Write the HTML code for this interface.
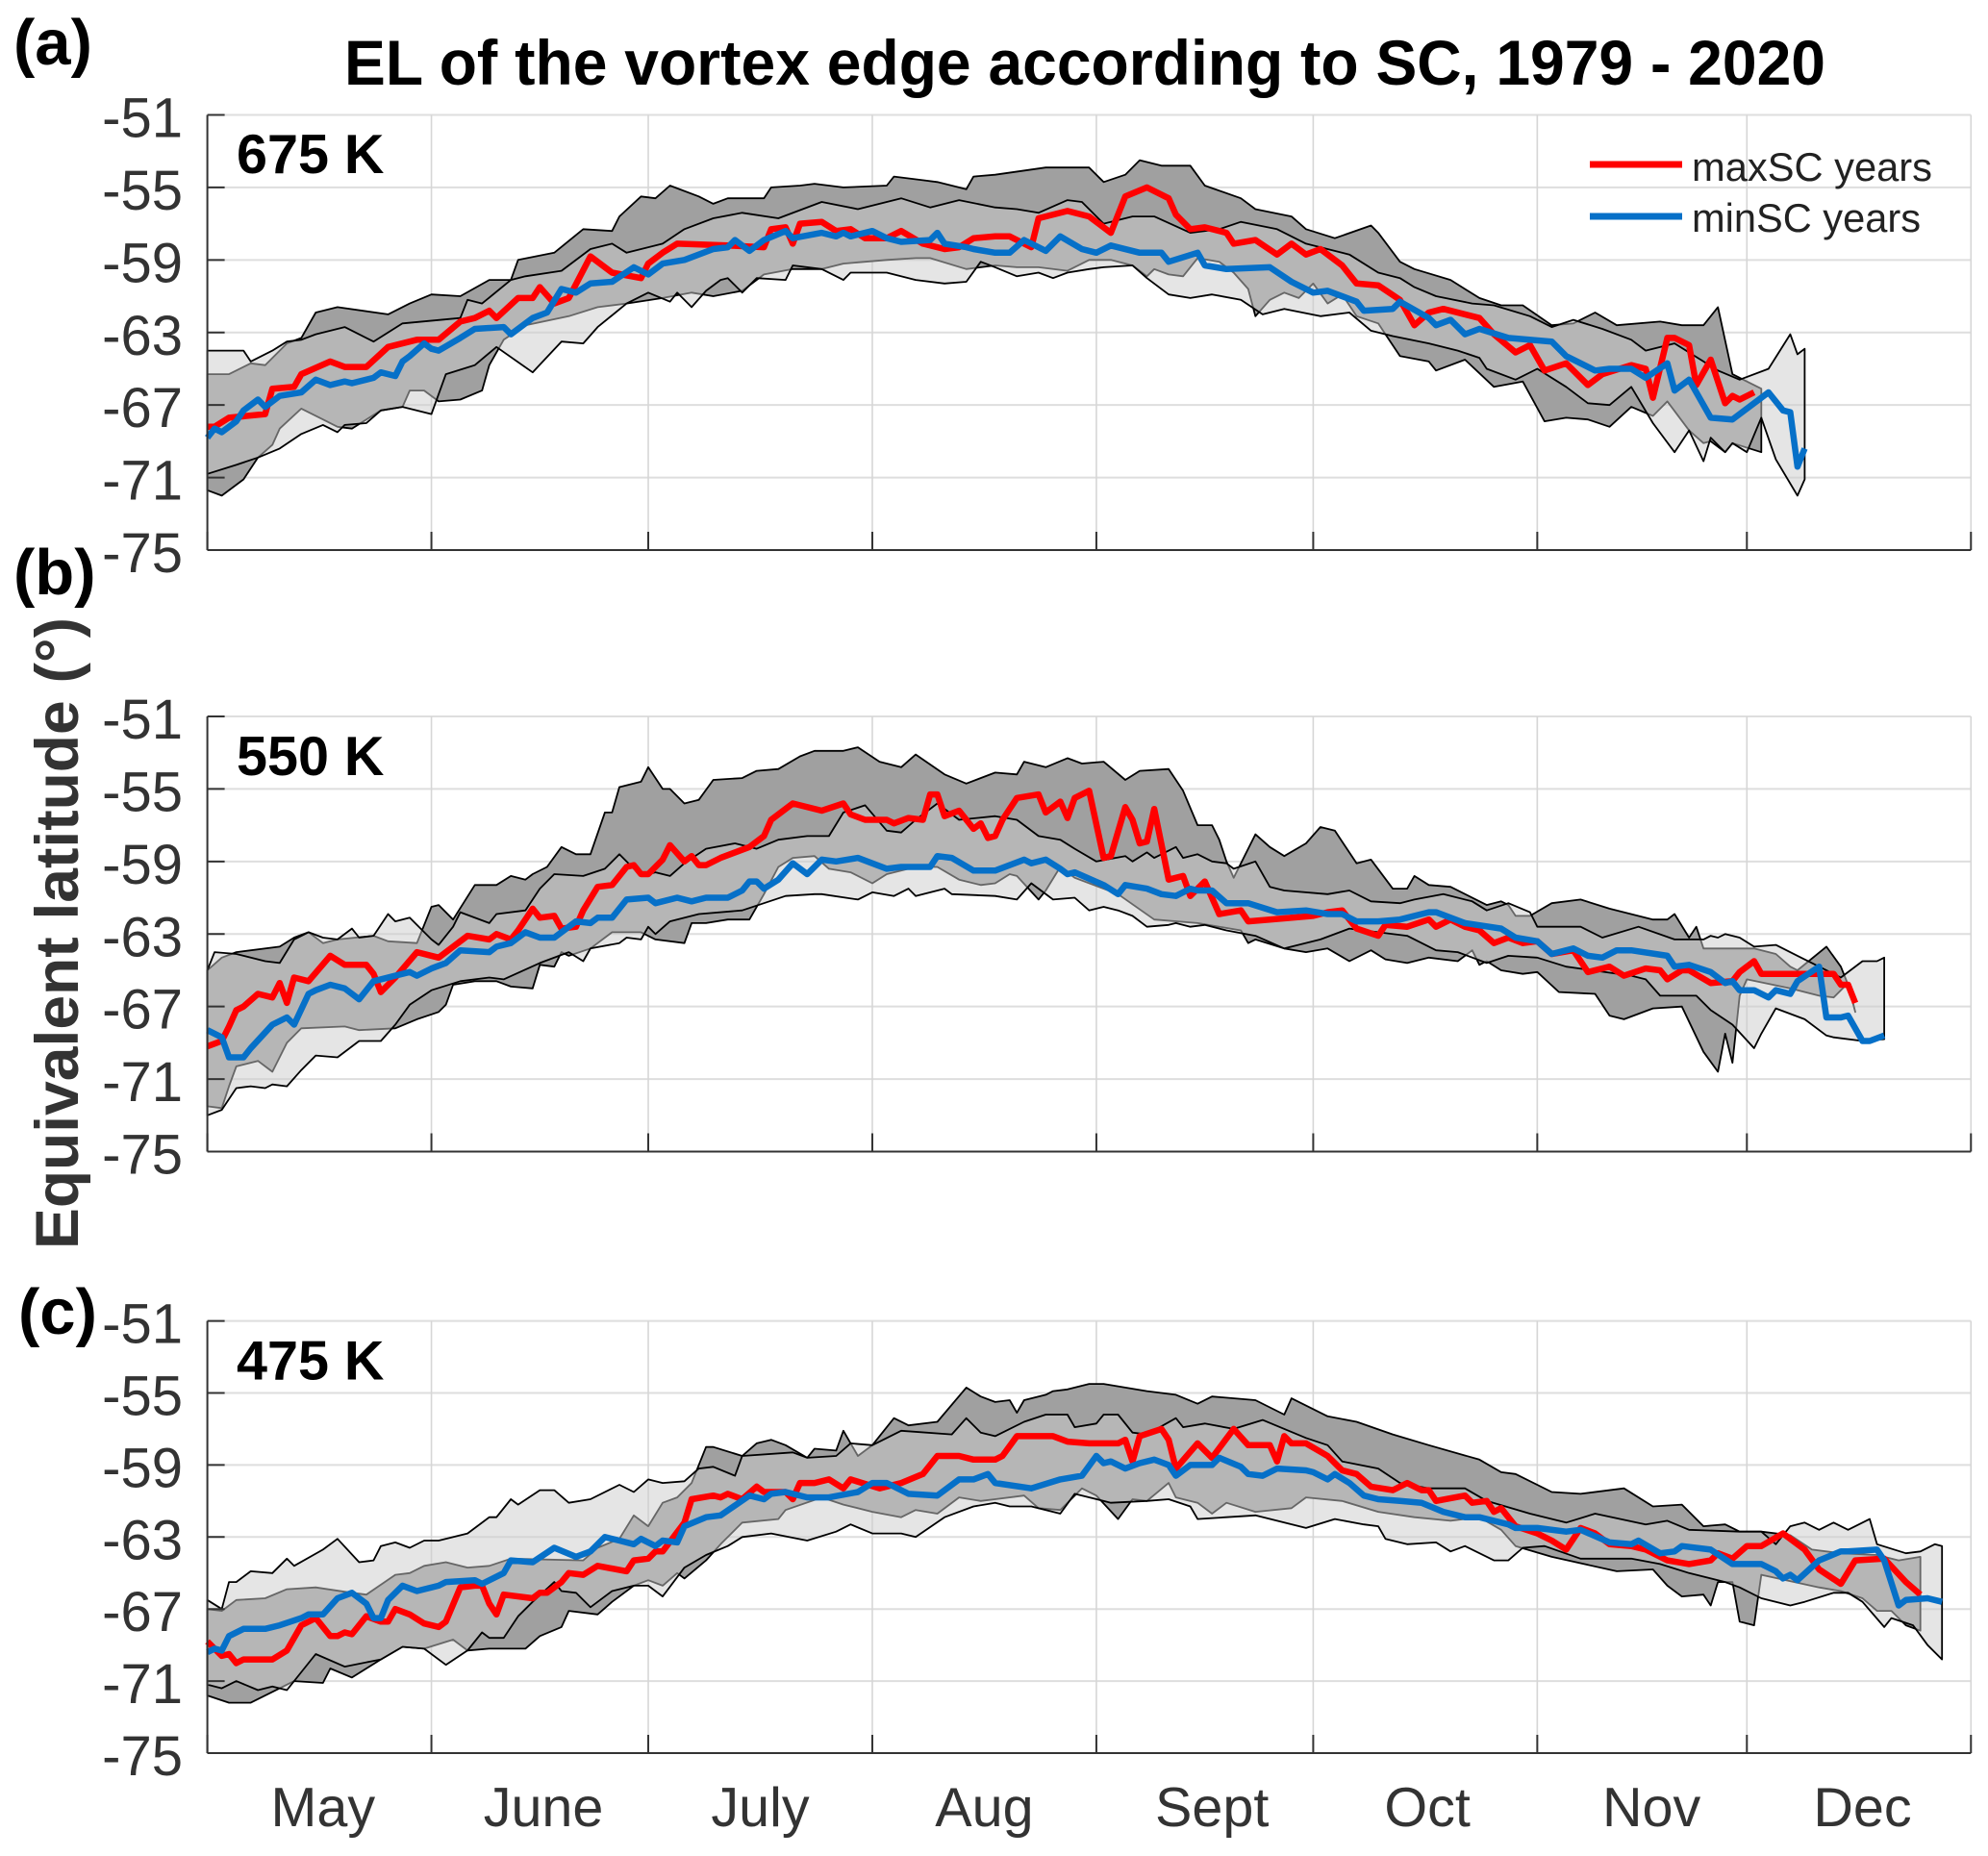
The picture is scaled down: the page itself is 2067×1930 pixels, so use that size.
<!DOCTYPE html>
<html lang="en">
<head>
<meta charset="utf-8">
<title>EL of the vortex edge according to SC, 1979 - 2020</title>
<style>
html,body{margin:0;padding:0;background:#fff}
svg{display:block}
text{font-family:"Liberation Sans",sans-serif}
</style>
</head>
<body>
<svg id="chart" xmlns="http://www.w3.org/2000/svg" width="2067" height="1930" viewBox="0 0 2067 1930">
<rect x="0" y="0" width="2067" height="1930" fill="#fff"/>
<g id="panels"></g>
<text x="358" y="88" font-size="66" font-weight="bold" fill="#000" textLength="1540" lengthAdjust="spacingAndGlyphs">EL of the vortex edge according to SC, 1979 - 2020</text>
<text x="14" y="67" font-size="67" font-weight="bold" fill="#000">(a)</text>
<text x="14" y="618" font-size="67" font-weight="bold" fill="#000">(b)</text>
<text x="19" y="1387" font-size="67" font-weight="bold" fill="#000">(c)</text>
<text transform="translate(81,1299) rotate(-90)" x="0" y="0" font-size="63" font-weight="bold" fill="#333" textLength="657" lengthAdjust="spacingAndGlyphs">Equivalent latitude (°)</text>
<g>
<line x1="1653" y1="171" x2="1749" y2="171" stroke="#ff0000" stroke-width="7"/>
<text x="1759" y="188" font-size="42" fill="#222" textLength="250" lengthAdjust="spacingAndGlyphs">maxSC years</text>
<line x1="1653" y1="225" x2="1749" y2="225" stroke="#0670c8" stroke-width="7"/>
<text x="1759" y="241" font-size="42" fill="#222" textLength="238" lengthAdjust="spacingAndGlyphs">minSC years</text>
</g>
</svg>
<script>
// ---- shared axis data ----
const yTicks = [-51,-55,-59,-63,-67,-71,-75];
const monthStartDays = [0,31,61,92,123,153,184,213,244];
const monthNames = ['May','June','July','Aug','Sept','Oct','Nov','Dec'];
const monthLabelDays = [16,46.5,76.5,107.5,139,168.8,199.8,229];

// ---- panel (a) 675 K ----
const aRedDays = [0,1,3,8,9,12,13,17,19,22,25,29,32,35,37,39,40,43,45,46,48,50,53,56,60,61,63,65,72,77,78,80,81,82,85,87,89,91,94,96,99,102,104,106,109,111,114,115,119,122,125,127,130,133,134,136,138,141,142,145,148,150,152,154,157,159,162,165,167,169,171,176,178,181,183,185,188,191,193,197,199,200,202,203,205,206,208,210,211,212,214];
const aRedVals = [-68.2,-68.2,-67.7,-67.5,-66.1,-66,-65.3,-64.6,-64.9,-64.9,-63.8,-63.4,-63.4,-62.4,-62.2,-61.8,-62.2,-61.1,-61.1,-60.5,-61.4,-61.1,-58.8,-59.7,-60,-59.2,-58.6,-58.1,-58.2,-58.3,-57.3,-57.2,-58.1,-57,-56.9,-57.4,-57.3,-57.8,-57.8,-57.4,-58.1,-58.4,-58.3,-57.8,-57.7,-57.7,-58.3,-56.7,-56.3,-56.6,-57.5,-55.5,-55,-55.6,-56.5,-57.3,-57.2,-57.5,-58.1,-57.9,-58.7,-58.1,-58.7,-58.4,-59.3,-60.3,-60.4,-61.2,-62.6,-61.9,-61.7,-62.2,-63.1,-64.1,-63.7,-65.1,-64.7,-65.9,-65.3,-64.8,-65,-66.6,-63.3,-63.3,-63.7,-65.9,-64.5,-66.9,-66.5,-66.7,-66.3];
const aBlueDays = [0,1,2,4,5,7,8,10,13,15,17,19,20,23,24,26,27,28,30,31,32,35,37,41,42,45,47,49,51,53,56,59,61,63,66,70,72,73,75,77,80,81,85,87,88,89,92,94,96,100,101,102,105,106,109,111,113,116,118,121,123,125,129,132,133,137,138,141,147,150,153,155,159,160,164,165,169,170,172,174,176,180,186,188,192,194,197,199,202,203,205,206,208,211,216,218,219,220,221];
const aBlueVals = [-68.8,-68.3,-68.5,-67.9,-67.3,-66.7,-67.1,-66.5,-66.3,-65.6,-65.9,-65.7,-65.8,-65.5,-65.2,-65.4,-64.6,-64.3,-63.6,-63.9,-64,-63.3,-62.8,-62.7,-63.1,-62.2,-61.9,-60.6,-60.8,-60.3,-60.2,-59.4,-59.8,-59.2,-59,-58.4,-58.3,-57.9,-58.5,-57.9,-57.4,-57.8,-57.5,-57.7,-57.5,-57.7,-57.4,-57.8,-58,-57.9,-57.5,-58.1,-58.3,-58.4,-58.6,-58.6,-57.9,-58.5,-57.7,-58.4,-58.6,-58.2,-58.6,-58.6,-59.1,-58.6,-59.3,-59.5,-59.4,-60.2,-60.8,-60.7,-61.3,-61.8,-61.7,-61.3,-62.2,-62.6,-62.3,-63.1,-62.8,-63.3,-63.5,-64.3,-65.1,-65,-65,-65.5,-64.7,-66.2,-65.6,-66.3,-67.7,-67.8,-66.3,-67.3,-67.4,-70.4,-69.4];
const aDarkTopDays = [0,3,6,8,11,13,15,18,25,28,31,35,39,42,43,48,52,56,57,60,62,64,68,70,72,77,78,82,84,88,94,95,99,101,105,106,109,116,122,124,127,129,132,136,138,143,145,150,152,156,161,162,165,167,172,176,179,182,186,189,192,195,201,204,207,209,211,213,215];
const aDarkTopVals = [-65.3,-65.3,-64.7,-64.8,-63.6,-63.3,-61.9,-61.6,-62,-61.4,-60.9,-61,-60.1,-60.1,-59,-58.6,-57.3,-57.4,-56.6,-55.5,-55.6,-54.9,-55.5,-55.9,-55.6,-55.6,-55,-54.9,-54.8,-55,-54.9,-54.4,-54.6,-54.7,-55.1,-54.4,-54.3,-53.9,-53.9,-54.7,-54.3,-53.5,-53.8,-53.8,-54.9,-55.6,-56.2,-56.6,-57.3,-57.8,-57.1,-57.5,-59.1,-59.5,-60.1,-61.1,-61.5,-61.5,-62.6,-62.5,-61.9,-62.6,-62.4,-62.6,-62.6,-61.6,-65.3,-65.7,-66.1];
const aDarkBotDays = [0,2,5,7,9,10,13,16,18,20,24,27,28,30,32,35,38,39,41,44,50,54,58,63,67,70,74,77,81,85,88,91,94,98,100,105,109,112,115,119,122,125,128,130,131,133,135,137,140,142,144,145,147,149,151,153,155,157,159,162,163,165,169,170,174,178,182,185,188,191,194,197,200,202,205,207,208,210,211,215];
const aDarkBotVals = [-71.7,-72,-71.1,-69.9,-69.2,-68.3,-67.2,-67.8,-68.2,-68.3,-67.3,-67.1,-66.2,-66.2,-66.8,-66.7,-66.2,-64.8,-63.4,-62.6,-62.1,-61.6,-61.4,-61.1,-60.8,-61,-60.7,-59.8,-59.5,-59.5,-59.2,-59.1,-59,-58.9,-58.9,-59.5,-59.3,-59.4,-59.4,-59.6,-59,-59,-59.3,-59.9,-59.5,-59.8,-59.9,-58.9,-59.1,-59.7,-60.6,-62.1,-61.2,-60.8,-61.1,-60.3,-61.4,-60.9,-62.1,-62.5,-63.1,-64.3,-64.6,-65.1,-64.5,-66,-65.7,-67.9,-67.7,-67.8,-68.2,-67.1,-67.6,-66.8,-68.4,-69.1,-69,-69.6,-69.1,-69.6];
const aLightTopDays = [0,5,6,9,11,13,15,19,23,27,35,36,38,42,44,49,53,56,58,63,66,70,74,79,85,90,96,100,104,109,112,115,119,121,124,128,131,136,140,143,148,152,158,162,165,167,170,175,178,183,186,189,193,197,199,203,207,209,212,216,219,220,221];
const aLightTopVals = [-64,-64,-64.6,-64,-63.5,-63.4,-63.1,-62.7,-63.5,-62.5,-62.2,-61.2,-61.4,-60.1,-59.9,-59.6,-58.4,-58.1,-58.6,-58.1,-57.3,-56.7,-56.4,-56.7,-55.8,-56.2,-55.6,-56.1,-55.7,-56.1,-56.2,-56.4,-55.7,-55.8,-57,-56.6,-56.6,-57.5,-57.3,-56.9,-57.3,-58.1,-58.7,-59.7,-60,-60.5,-61,-61.4,-61.5,-62.1,-62.7,-62.3,-62.8,-63.4,-64,-63.6,-64.6,-65.1,-65.6,-65,-63.1,-64.2,-63.9];
const aLightBotDays = [0,4,7,10,13,16,18,19,22,24,27,31,33,37,40,45,49,52,54,58,61,64,65,67,69,71,72,74,76,80,81,85,88,89,94,98,102,105,107,109,112,115,117,119,122,124,128,130,133,136,139,143,146,149,154,158,161,164,169,173,176,177,181,184,188,191,194,197,200,203,205,207,208,210,211,213,215,217,220,221];
const aLightBotVals = [-70.8,-70.3,-69.9,-69.4,-68.6,-68.1,-68.5,-68.1,-68,-67.3,-67.1,-67.5,-65.3,-64.8,-63.8,-65.2,-63.5,-63.6,-62.7,-61.4,-60.8,-61.3,-60.8,-61.6,-60.7,-60.1,-60,-60.8,-60,-60.1,-59.3,-59.5,-60.1,-59.7,-59.7,-60.1,-60.3,-60.2,-59.1,-59.4,-59.9,-59.7,-60,-59.7,-59.5,-59.4,-59.3,-60,-60.9,-61.1,-60.9,-61.2,-62,-61.7,-62.1,-61.9,-62.9,-63.2,-63.6,-64,-64.4,-65,-65.6,-65,-66,-66.9,-67,-66,-68,-69.6,-68.4,-70.1,-68.8,-69.6,-69.1,-69.6,-67.7,-70,-72,-71.1];

// ---- panel (b) 550 K ----
const bRedDays = [0,2,3,4,5,7,9,10,11,12,14,17,19,22,23,24,26,29,32,36,39,40,42,43,45,46,48,49,51,52,54,56,58,59,60,61,63,64,66,67,68,69,71,73,75,77,78,81,85,88,89,91,94,95,97,99,100,101,102,104,106,107,108,109,110,112,115,116,118,119,120,122,124,125,127,128,129,130,131,133,135,136,138,140,143,144,147,153,155,157,159,162,163,166,169,170,172,174,176,178,180,182,184,186,189,191,194,196,199,201,202,204,205,208,211,212,214,215,218,225,226,227,228];
const bRedVals = [-69.2,-68.9,-68.1,-67.2,-67,-66.3,-66.5,-65.7,-66.8,-65.4,-65.6,-64.2,-64.7,-64.7,-65.2,-66.2,-65.4,-64,-64.3,-63.1,-63.3,-63,-63.3,-62.8,-61.6,-62.1,-62,-62.7,-62.6,-61.7,-60.4,-60.3,-59.3,-59.2,-59.7,-59.7,-58.9,-58.1,-59,-58.7,-59.2,-59.2,-58.8,-58.5,-58.2,-57.6,-56.7,-55.8,-56.2,-55.8,-56.4,-56.7,-56.7,-56.9,-56.6,-56.7,-55.3,-55.3,-56.5,-56.2,-57.2,-56.9,-57.7,-57.6,-56.7,-55.5,-55.3,-56.3,-55.7,-56.6,-55.5,-55.1,-58.8,-58.7,-56,-56.7,-58,-57.9,-56.1,-60,-59.8,-60.9,-60.1,-61.9,-61.7,-62.3,-62.2,-62,-61.8,-61.7,-62.7,-63.1,-62.5,-62.6,-62.2,-62.6,-62.2,-62.6,-62.8,-63.5,-63.2,-63.5,-63.4,-64.1,-63.9,-65.1,-64.8,-65.3,-64.9,-65,-65.5,-65,-65,-65.7,-65.6,-65.1,-64.5,-65.2,-65.2,-65.2,-65.8,-65.8,-66.8];
const bBlueDays = [0,2,3,5,6,9,11,12,14,15,17,19,21,23,28,29,31,33,35,39,40,42,44,46,48,51,53,54,56,58,61,62,65,67,69,72,74,75,76,77,79,81,83,85,87,90,94,96,100,101,103,106,109,113,114,116,118,119,120,124,126,127,130,132,134,136,137,139,141,144,148,152,155,157,159,162,165,169,170,174,179,181,184,186,189,191,193,195,197,202,203,205,208,210,211,212,214,216,217,219,220,223,224,226,227,229,230,232];
const bBlueVals = [-68.3,-68.7,-69.8,-69.8,-69.3,-68,-67.6,-68,-66.3,-66.1,-65.8,-66,-66.6,-65.6,-65.1,-65.3,-64.9,-64.6,-63.9,-64,-63.7,-63.5,-62.9,-63.2,-63.2,-62.3,-62.4,-62.1,-62.1,-61.1,-61,-61.3,-61,-61.2,-61,-61,-60.6,-60.1,-60.1,-60.5,-60,-59.1,-59.7,-58.9,-59,-58.8,-59.4,-59.3,-59.3,-58.7,-58.8,-59.5,-59.5,-58.9,-59.1,-58.9,-59.4,-59.7,-59.6,-60.3,-60.8,-60.3,-60.5,-60.8,-60.9,-60.5,-60.6,-60.6,-61.3,-61.3,-61.8,-61.7,-61.9,-61.9,-62.3,-62.3,-62.2,-61.8,-61.8,-62.4,-62.7,-63.2,-63.4,-64.1,-63.8,-64.2,-64.3,-63.9,-63.9,-64.2,-64.8,-64.7,-65.1,-65.7,-65.6,-66.1,-66.1,-66.5,-66.1,-66.3,-65.6,-64.8,-67.6,-67.6,-67.5,-68.9,-68.9,-68.6];
const bDarkTopDays = [0,2,4,10,12,14,16,18,23,25,29,31,32,34,37,40,42,44,45,47,49,51,53,55,56,57,60,61,63,64,66,68,70,74,76,79,82,84,88,90,93,96,98,102,105,109,112,113,116,119,121,124,127,129,133,135,137,139,140,141,142,145,147,149,152,154,156,159,161,164,166,167,169,172,177,179,180,181,183,186,190,194,200,202,203,205,206,207,214,217,219,220,224,226,227,228];
const bDarkTopVals = [-65,-64.3,-64,-63.7,-63.2,-62.9,-63.5,-63.3,-63.1,-63.4,-63.5,-61.5,-61.4,-62.2,-60.3,-60.3,-59.8,-60,-59.7,-59.3,-58.2,-58.6,-58.6,-56.3,-56.3,-54.9,-54.6,-53.8,-55,-55,-55.8,-55.6,-54.5,-54.4,-54,-53.9,-53.2,-52.9,-52.9,-52.7,-53.5,-53.8,-53.1,-54.2,-54.7,-54.1,-54.2,-53.5,-53.8,-53.3,-53.6,-53.5,-54.5,-54,-53.9,-55.1,-57,-57,-57.8,-59,-59.9,-57.5,-58.2,-58.7,-58,-57.1,-57.3,-59.1,-58.9,-60.5,-60.5,-59.8,-60.3,-60.4,-61.4,-61.2,-61.4,-62,-62,-61.3,-61.1,-61.6,-62.2,-62.2,-61.9,-63.2,-62.6,-63.8,-63.8,-64.1,-64.8,-65,-63.7,-64.8,-65.8,-67.3];
const bDarkBotDays = [0,2,3,4,5,7,9,11,13,19,21,26,29,32,33,34,37,40,42,45,46,48,49,50,53,56,60,62,66,67,69,72,75,77,79,81,84,86,89,92,94,98,101,104,107,109,111,112,115,116,118,120,126,131,137,143,144,145,149,152,155,158,161,163,166,169,173,175,176,177,179,182,184,187,192,194,196,200,204,207,209,210,211,212,213,219,223,225,227,228];
const bDarkBotVals = [-72.5,-72.6,-71.4,-70.3,-70.2,-70,-70.6,-69,-68.2,-68.1,-68.3,-68.2,-67.7,-67.3,-66.9,-65.8,-65.6,-65.6,-65.9,-66,-64.7,-64.8,-64,-64.2,-63.8,-62.9,-62.9,-63.3,-63.5,-62.4,-62.4,-62.2,-62.2,-60.8,-59.3,-58.8,-58.7,-59.4,-59.6,-60.2,-59.7,-59.3,-59.3,-60,-60.3,-60.2,-59.7,-59.8,-61.1,-60.6,-59.3,-59.9,-60.8,-62.2,-62.4,-62.8,-63.5,-63.3,-63.8,-64,-63.8,-64.5,-63.9,-64.4,-64.6,-64.3,-64.5,-63.9,-64.7,-64.5,-65,-65.2,-65.1,-66.2,-66.3,-67.5,-67.7,-67.1,-67,-69.5,-70.6,-68.5,-70.1,-66.4,-65.5,-66,-66.4,-66.5,-65.7,-67.3];
const bLightTopDays = [0,1,4,8,10,12,14,16,18,20,21,23,25,26,28,31,32,34,35,39,40,44,46,48,52,55,57,60,62,64,66,69,73,76,79,83,86,88,91,94,96,98,101,104,109,112,115,118,120,123,127,128,130,131,134,135,137,139,141,142,145,147,149,155,158,161,165,167,171,175,177,180,183,184,187,190,193,198,203,207,208,209,210,212,214,217,220,223,226,229,231,232];
const bLightTopVals = [-65,-64,-64.1,-64.5,-64.6,-63.3,-62.9,-63.2,-63.3,-62.7,-63.2,-63.1,-61.9,-62.3,-62.1,-63.3,-63.6,-62.6,-61.8,-62.4,-61.9,-61.7,-60.5,-59.7,-59.8,-59.4,-58.6,-59.8,-59.6,-59.8,-59.1,-58.3,-58,-58.3,-57.8,-57.6,-57.6,-56.3,-55.9,-57.3,-57.4,-56.7,-55.8,-56.7,-56.5,-56.7,-57.6,-57.8,-58.3,-59,-58.7,-59,-58.5,-58.8,-58.2,-58.8,-58.6,-59,-59.1,-59.4,-59,-60.4,-60.6,-60.8,-60.6,-61.2,-61.3,-61.1,-60.8,-61.2,-61.7,-61.3,-61.8,-62.6,-62.6,-62.6,-63.2,-62.6,-63.3,-63.3,-63.1,-63.2,-63,-63.2,-63.7,-63.6,-64.2,-64.8,-65.4,-64.5,-64.5,-64.3];
const bLightBotDays = [0,2,4,6,8,9,11,13,15,18,21,24,26,28,31,35,39,41,46,50,52,53,57,58,60,61,62,64,68,74,77,80,84,85,90,92,95,97,98,102,103,109,112,114,117,120,122,124,126,128,130,133,134,136,138,141,145,149,154,158,162,166,170,173,177,180,184,188,197,199,201,203,206,208,211,214,215,217,221,224,225,229,232];
const bLightBotVals = [-73,-72.7,-71.5,-71.4,-71.5,-71.3,-71.4,-70.5,-69.7,-69.8,-68.9,-68.9,-68,-66.9,-66.1,-65.6,-65.4,-65.5,-64.6,-64,-64.5,-63.8,-63.5,-63.2,-63.3,-62.6,-63,-62.3,-61.9,-61.7,-61.3,-60.9,-60.8,-60.8,-61.1,-60.7,-60.9,-60.5,-60.9,-60.5,-60.8,-60.9,-61.1,-60.2,-61.1,-61,-61.7,-61.5,-61.7,-62,-62.6,-62.5,-62.4,-62.6,-62.5,-62.8,-63.1,-63.8,-63.3,-62.7,-62.9,-63.1,-63.9,-64,-64.6,-64.2,-64.3,-64.8,-65.3,-65.5,-66.4,-66.4,-66.4,-67.2,-68,-69.3,-68.5,-67.1,-67.7,-68.6,-68.7,-68.9,-68.8];

// ---- panel (c) 475 K ----
const cRedDays = [0,2,3,4,5,7,9,11,13,15,17,18,19,20,22,24,25,26,28,30,32,33,35,37,38,39,40,41,45,46,47,49,50,52,54,58,59,61,62,63,66,67,70,71,72,74,76,77,80,81,82,84,86,88,89,93,96,99,101,104,106,109,110,112,117,119,122,126,127,128,129,132,133,134,137,139,142,144,147,148,149,150,152,155,157,159,161,164,166,168,169,170,174,175,177,178,179,181,184,186,188,190,192,194,197,199,202,205,208,209,211,213,215,218,221,223,226,228,232,235,237];
const cRedVals = [-68.8,-69.6,-69.5,-70,-69.8,-69.8,-69.8,-69.3,-67.9,-67.5,-68.5,-68.5,-68.3,-68.4,-67.4,-67.7,-67.7,-67,-67.3,-67.8,-68,-67.7,-65.8,-65.7,-65.7,-66.7,-67.3,-66.2,-66.4,-66.1,-66.1,-65.5,-65,-65.1,-64.6,-64.9,-64.3,-64.2,-63.8,-63.8,-62.2,-60.9,-60.7,-60.8,-60.6,-60.9,-60.2,-60.5,-60.5,-60.9,-60,-60,-59.8,-60.3,-59.8,-60.3,-60,-59.5,-58.5,-58.5,-58.7,-58.7,-58.5,-57.4,-57.4,-57.7,-57.8,-57.8,-57.6,-58.8,-57.4,-57,-57.6,-59.2,-57.8,-58.6,-57,-57.9,-57.9,-58.8,-57.4,-57.8,-57.8,-58.5,-59.3,-59.5,-60.2,-60.4,-60,-60.4,-60.4,-61,-60.7,-61.1,-61,-61.6,-61.4,-62.4,-62.8,-63.2,-63.7,-62.5,-62.8,-63.4,-63.5,-63.7,-64.3,-64.5,-64.3,-63.9,-64.2,-63.5,-63.5,-62.8,-63.7,-64.8,-65.6,-64.3,-64.2,-65.5,-66.2];
const cBlueDays = [0,1,2,3,5,8,10,13,14,16,18,20,22,23,24,25,27,29,32,33,37,38,41,42,45,48,51,53,55,57,59,60,62,63,65,66,69,71,75,77,78,80,83,86,90,92,94,97,101,104,106,108,109,114,118,121,123,124,125,127,129,131,133,134,136,139,140,143,144,146,148,152,153,155,156,158,160,162,165,168,171,174,176,180,181,184,188,190,194,197,198,201,203,204,208,211,215,217,218,219,220,223,226,227,231,232,234,235,238,240];
const cBlueVals = [-69.4,-69.2,-69.3,-68.5,-68.1,-68.1,-67.9,-67.5,-67.3,-67.3,-66.4,-66.1,-66.7,-67.5,-67.5,-66.5,-65.7,-66,-65.7,-65.5,-65.4,-65.6,-65,-64.3,-64.4,-63.6,-64.1,-63.8,-63,-63.2,-63.4,-63.1,-63.5,-63.2,-63.3,-62.4,-61.9,-61.8,-60.7,-60.9,-60.6,-60.5,-60.8,-60.8,-60.5,-60,-60,-60.6,-60.7,-59.8,-59.8,-59.5,-60,-60.3,-59.8,-59.6,-58.5,-58.9,-58.8,-59.2,-58.9,-58.7,-59,-59.6,-59,-59,-58.6,-59.1,-59.5,-59.6,-59.2,-59.3,-59.4,-59.8,-59.5,-60,-60.7,-60.9,-61,-61.1,-61.6,-61.9,-61.9,-62.3,-62.5,-62.5,-62.7,-62.6,-63.3,-63.4,-63.2,-63.9,-63.8,-63.5,-63.7,-64.5,-64.5,-64.9,-65.3,-65.1,-65.4,-64.3,-63.8,-63.8,-63.7,-64.3,-66.8,-66.5,-66.4,-66.6];
const cDarkTopDays = [0,2,4,8,11,15,20,22,26,28,30,33,36,39,42,52,54,57,59,61,63,65,67,69,70,74,76,78,80,83,84,87,88,90,92,95,97,101,105,107,109,111,112,113,116,117,119,122,124,130,134,137,139,145,149,150,155,159,164,169,176,179,181,186,190,196,200,204,207,210,212,215,219,222,226,231,234,237];
const cDarkTopVals = [-67,-67.1,-66.5,-66.4,-65.9,-65.8,-66.1,-66.2,-65.1,-65,-64.6,-64.4,-64.7,-64.6,-64.2,-64.3,-63.6,-63.1,-61.8,-62.4,-61.1,-60.8,-60,-58,-58,-58.5,-57.8,-57.6,-57.9,-58.6,-58.1,-58.2,-57.1,-58.5,-57.9,-56.4,-56.8,-56.6,-54.7,-55.2,-55.5,-55.4,-56.1,-55.4,-55.1,-54.9,-54.8,-54.5,-54.5,-54.9,-55.1,-55.6,-55.2,-55.4,-56.2,-55.3,-56.3,-56.6,-57.3,-57.9,-58.7,-59.4,-59.5,-60.5,-60.6,-60.3,-61.3,-61.2,-62.4,-62.3,-62.7,-62.7,-62.9,-63.7,-63.9,-64,-64.3,-64.1];
const cDarkBotDays = [0,3,6,10,12,16,17,20,24,27,30,34,36,39,44,46,49,50,54,56,59,61,63,65,66,69,71,74,79,80,85,88,92,96,98,101,104,107,109,113,115,118,121,123,126,128,130,133,134,137,139,141,145,150,152,157,162,167,172,176,179,181,186,195,200,202,204,207,208,209,211,212,214,215,223,226,229,231,233,235,237];
const cDarkBotVals = [-71.8,-72.2,-72.2,-71.4,-71,-71.1,-70.3,-70.8,-69.8,-69.1,-69.2,-68.7,-69.3,-69.2,-69.2,-68.5,-68,-67.1,-67.3,-66.6,-65.7,-65.4,-65.7,-65,-65.3,-64.3,-63.4,-62.2,-62,-61.5,-60.8,-61.2,-61.6,-61.9,-61.5,-61.7,-60.8,-61,-60.9,-60.7,-61.4,-61.5,-60.3,-60.7,-62,-60.9,-61,-60,-60.8,-61.1,-61.7,-61.1,-61.6,-61.4,-60.8,-61,-61.6,-61.9,-62.1,-61.9,-62.6,-63.5,-64.1,-64.9,-64.8,-65.7,-66.3,-66.2,-66.8,-65.5,-65.5,-67.7,-67.9,-65.1,-65.8,-66,-66.4,-67.1,-67.1,-67.9,-68.2];
const cLightTopDays = [0,2,3,4,6,9,11,12,16,18,21,23,24,26,28,30,32,36,39,40,42,43,46,48,50,53,57,59,61,63,66,68,70,73,74,81,83,87,89,92,96,103,105,107,109,113,116,119,120,123,124,126,128,130,134,135,138,142,146,152,155,157,162,165,169,174,177,183,188,192,199,202,205,212,215,217,219,221,223,225,227,230,231,235,237,239,240];
const cLightTopVals = [-66.5,-67,-65.5,-65.5,-64.9,-65,-64.2,-64.6,-63.7,-63.1,-64.4,-64.3,-63.5,-63.3,-63.6,-63.2,-63.2,-62.8,-61.9,-61.9,-60.9,-61.2,-60.4,-60.4,-61.1,-60.9,-60.1,-60.5,-59.8,-60,-59.9,-59.2,-59.1,-59.6,-58.5,-58.3,-58.6,-58.5,-57.8,-57.9,-57.1,-57.3,-56.4,-57.2,-57.4,-56.6,-56.2,-56.2,-56.9,-56.7,-56.2,-56.2,-57.2,-57.3,-56.4,-56.9,-56.7,-57,-56.5,-57.5,-57.9,-58.8,-59.2,-60,-60.3,-60.3,-61,-61.7,-62.2,-61.7,-62.3,-62.1,-62.6,-62.7,-62.7,-63.4,-62.4,-62.2,-62.6,-62.2,-62.6,-62,-63.4,-63.9,-63.8,-63.4,-63.5];
const cLightBotDays = [0,2,4,7,9,11,15,19,24,27,30,33,36,38,39,41,43,45,48,49,51,53,56,59,61,63,66,69,72,74,78,83,87,89,92,96,98,102,106,109,111,114,118,120,125,130,133,136,137,141,145,152,156,160,162,163,166,170,172,174,178,180,182,185,190,197,201,205,210,212,215,219,221,225,227,229,232,233,236,238,240];
const cLightBotVals = [-71.2,-71.4,-71,-71.5,-71.3,-71.5,-69.5,-70.2,-69.8,-69.1,-69.2,-70.1,-69.3,-68.3,-68.6,-68.6,-67.4,-66.6,-65.5,-66,-66.1,-66.9,-66,-65.7,-65.7,-66.3,-64.7,-64,-63.5,-63,-62.8,-63.2,-62.7,-62.3,-62.8,-62.8,-63,-61.9,-61.3,-61.1,-61.3,-61.3,-61.7,-60.6,-61.1,-61,-60.9,-61.3,-62,-61.9,-61.8,-62.5,-62,-62.3,-62.4,-63.1,-63.4,-63.3,-63.8,-63.5,-64.3,-64.3,-63.6,-63.5,-64.2,-64.2,-64.5,-65,-65.5,-65.8,-66.4,-66.8,-66.6,-66.1,-66.1,-66.6,-68,-67.5,-67.9,-69,-69.8];

// ---- panel registry: names only refer to the arrays above ----
const panelSeries = {
  a:{title:'675 K',red:[aRedDays,aRedVals],blue:[aBlueDays,aBlueVals],darkTop:[aDarkTopDays,aDarkTopVals],darkBot:[aDarkBotDays,aDarkBotVals],lightTop:[aLightTopDays,aLightTopVals],lightBot:[aLightBotDays,aLightBotVals]},
  b:{title:'550 K',red:[bRedDays,bRedVals],blue:[bBlueDays,bBlueVals],darkTop:[bDarkTopDays,bDarkTopVals],darkBot:[bDarkBotDays,bDarkBotVals],lightTop:[bLightTopDays,bLightTopVals],lightBot:[bLightBotDays,bLightBotVals]},
  c:{title:'475 K',red:[cRedDays,cRedVals],blue:[cBlueDays,cBlueVals],darkTop:[cDarkTopDays,cDarkTopVals],darkBot:[cDarkBotDays,cDarkBotVals],lightTop:[cLightTopDays,cLightTopVals],lightBot:[cLightBotDays,cLightBotVals]}
};

// ---- layout ----
const layout = {a:{top:119.5,bottom:572,titleY:180},b:{top:745,bottom:1197.5,titleY:806},c:{top:1373.6,bottom:1823,titleY:1434.5}};
const plotLeft = 215.6, pxPerDay = 7.515;
const NS = 'http://www.w3.org/2000/svg';
function xOf(day){return plotLeft + day*pxPerDay;}
function yOf(id,v){const L=layout[id];return L.top + (-51 - v)/24*(L.bottom-L.top);}
function make(tag,parent,attrs){
  const el=document.createElementNS(NS,tag);
  for(const k in attrs){el.setAttribute(k,attrs[k]);}
  parent.appendChild(el);
  return el;
}
function pts(id,s){
  const out=[];
  const n=Math.min(s[0].length,s[1].length);
  for(let i=0;i<n;i++){out.push(xOf(s[0][i]).toFixed(1)+','+yOf(id,s[1][i]).toFixed(1));}
  return out;
}
const root=document.getElementById('panels');
Object.keys(panelSeries).forEach(function(id){
  const S=panelSeries[id], L=layout[id];
  const g=make('g',root,{});
  
  
  const xR=xOf(244);
  // grid
  yTicks.forEach(function(v){
    const gl=make('line',g,{x1:plotLeft,x2:xR,y1:yOf(id,v),y2:yOf(id,v),stroke:'#dedede','stroke-width':2});
    
    
  });
  monthStartDays.forEach(function(d){
    const gl=make('line',g,{x1:xOf(d),x2:xOf(d),y1:L.top,y2:L.bottom,stroke:'#d6d6d6','stroke-width':1.6});
    
    
  });
  // bands
  const dark=make('polygon',g,{points:pts(id,S.darkTop).concat(pts(id,S.darkBot).reverse()).join(' '),fill:'#a0a0a0',stroke:'#000','stroke-width':1.8,'stroke-linejoin':'round'});
  
  
  const light=make('path',g,{d:'M'+pts(id,S.lightTop).concat(pts(id,S.lightBot).reverse()).join('L')+'Z',fill:'#cccccc','fill-opacity':0.5,stroke:'none'});
  
  
  const lightEdge=make('path',g,{d:'M'+pts(id,S.lightTop).concat(pts(id,S.lightBot).reverse()).join('L')+'Z',fill:'none',stroke:'#000','stroke-width':1.8,'stroke-linejoin':'round'});
  
  
  // mean lines
  const red=make('polyline',g,{points:pts(id,S.red).join(' '),fill:'none',stroke:'#ff0000','stroke-width':6.5,'stroke-linejoin':'round'});
  
  
  const blue=make('polyline',g,{points:pts(id,S.blue).join(' '),fill:'none',stroke:'#0670c8','stroke-width':6.5,'stroke-linejoin':'round'});
  
  
  // axes
  const yAxis=make('line',g,{x1:plotLeft,x2:plotLeft,y1:L.top,y2:L.bottom,stroke:'#333','stroke-width':2});
  
  
  const xAxis=make('line',g,{x1:plotLeft,x2:xR,y1:L.bottom,y2:L.bottom,stroke:'#333','stroke-width':2});
  
  
  yTicks.forEach(function(v){
    const t=make('line',g,{x1:plotLeft,x2:plotLeft+18,y1:yOf(id,v),y2:yOf(id,v),stroke:'#333','stroke-width':2});
    
    
    const lb=make('text',g,{x:190,y:yOf(id,v)+23,'text-anchor':'end','font-size':58,fill:'#333'});
    
    
    lb.textContent=String(v);
  });
  monthStartDays.forEach(function(d){
    const t=make('line',g,{x1:xOf(d),x2:xOf(d),y1:L.bottom,y2:L.bottom-19,stroke:'#333','stroke-width':2});
    
    
  });
  const pt=make('text',g,{x:246,y:L.titleY,'font-size':57.5,'font-weight':'bold',fill:'#000'});
  
  
  pt.textContent=S.title;
  if(id==='c'){
    monthNames.forEach(function(m,i){
      const lb=make('text',g,{x:xOf(monthLabelDays[i]),y:1899,'text-anchor':'middle','font-size':57.5,fill:'#333'});
      
      
      lb.textContent=m;
    });
  }
});
</script>
</body>
</html>
